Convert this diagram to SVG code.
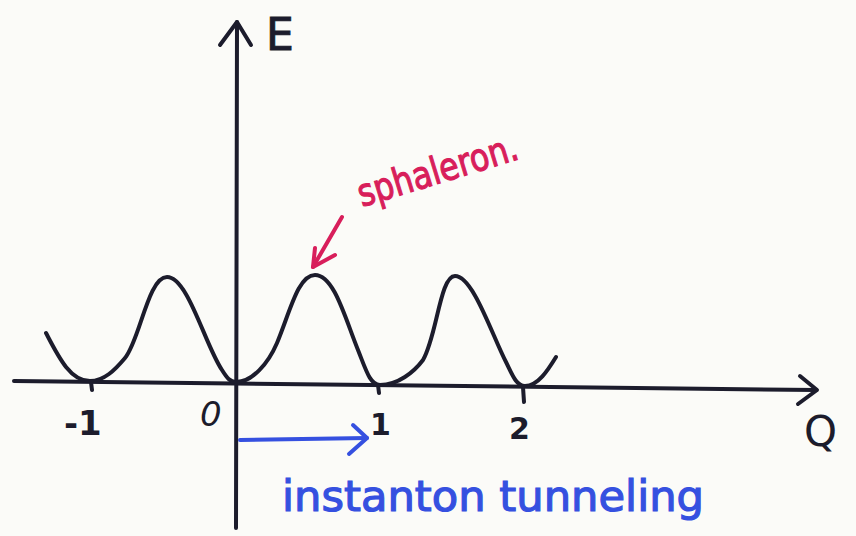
<svg xmlns="http://www.w3.org/2000/svg" width="856" height="536" viewBox="0 0 856 536">
  <style>
    .ink { fill: none; stroke: #1c1c2c; stroke-width: 4; stroke-linecap: round; stroke-linejoin: round; }
    .pink { fill: none; stroke: #d81e5b; stroke-width: 4; stroke-linecap: round; stroke-linejoin: round; }
    .blue { fill: none; stroke: #3550e0; stroke-width: 4; stroke-linecap: round; stroke-linejoin: round; }
    .lbl { font-family: "DejaVu Sans", "Liberation Sans", sans-serif; fill: #1c1c2c; }
  </style>
  <rect width="856" height="536" fill="#fbfbf8"/>
  <g id="axes">
    <path class="ink" d="M236,528 L237,22"/>
    <path class="ink" d="M220,45 L237,22 L251,45"/>
    <path class="ink" d="M14,381 L816,390"/>
    <path class="ink" d="M800,376 L817,390 L798,404"/>
    <path class="ink" d="M91,382 L92,390 M378,385 L379,393 M523,387 L524,402"/>
  </g>
  <g id="curve">
    <path class="ink" d="M46,333 C58,356 70,381 90,381 C104,381 115,370 125,358 C140,340 148,277 167,277 C188,277 205,345 222,370 C227,378 230,382 236,382 C252,382 268,364 277,343 C290,312 298,275 315,275 C334,275 345,318 358,350 C366,370 370,385 380,385 C398,385 414,372 423,360 C437,336 440,276 455,276 C473,276 492,335 506,362 C512,374 516,386 525,386 C538,386 548,370 556,357"/>
  </g>
  <g id="labels">
    <text class="lbl" x="266" y="50" font-size="44" stroke="#1c1c2c" stroke-width="1">E</text>
    <text class="lbl" x="804" y="446" font-size="42">Q</text>
    <text class="lbl" x="64" y="435" font-size="34" font-weight="bold">-1</text>
    <text class="lbl" x="200" y="426" font-size="34" font-style="italic">0</text>
    <text class="lbl" x="370" y="435" font-size="30" font-weight="bold">1</text>
    <text class="lbl" x="509" y="439" font-size="30" font-weight="bold">2</text>
  </g>
  <g id="sphaleron">
    <path class="pink" d="M342,217 L313,267"/>
    <path class="pink" d="M315,248 L313,267 L335,255"/>
    <text x="362" y="207" font-family="DejaVu Sans, sans-serif" font-size="38" fill="#d81e5b" stroke="#d81e5b" stroke-width="1.2" transform="rotate(-17 362 207)" textLength="166" lengthAdjust="spacingAndGlyphs">sphaleron.</text>
  </g>
  <g id="tunneling">
    <path class="blue" d="M240,440 L367,438"/>
    <path class="blue" d="M353,425 L367,438 L349,454"/>
    <text x="282" y="511" font-family="DejaVu Sans, sans-serif" font-size="42" fill="#3550e0" stroke="#3550e0" stroke-width="1.2" textLength="422" lengthAdjust="spacingAndGlyphs">instanton tunneling</text>
  </g>
</svg>
